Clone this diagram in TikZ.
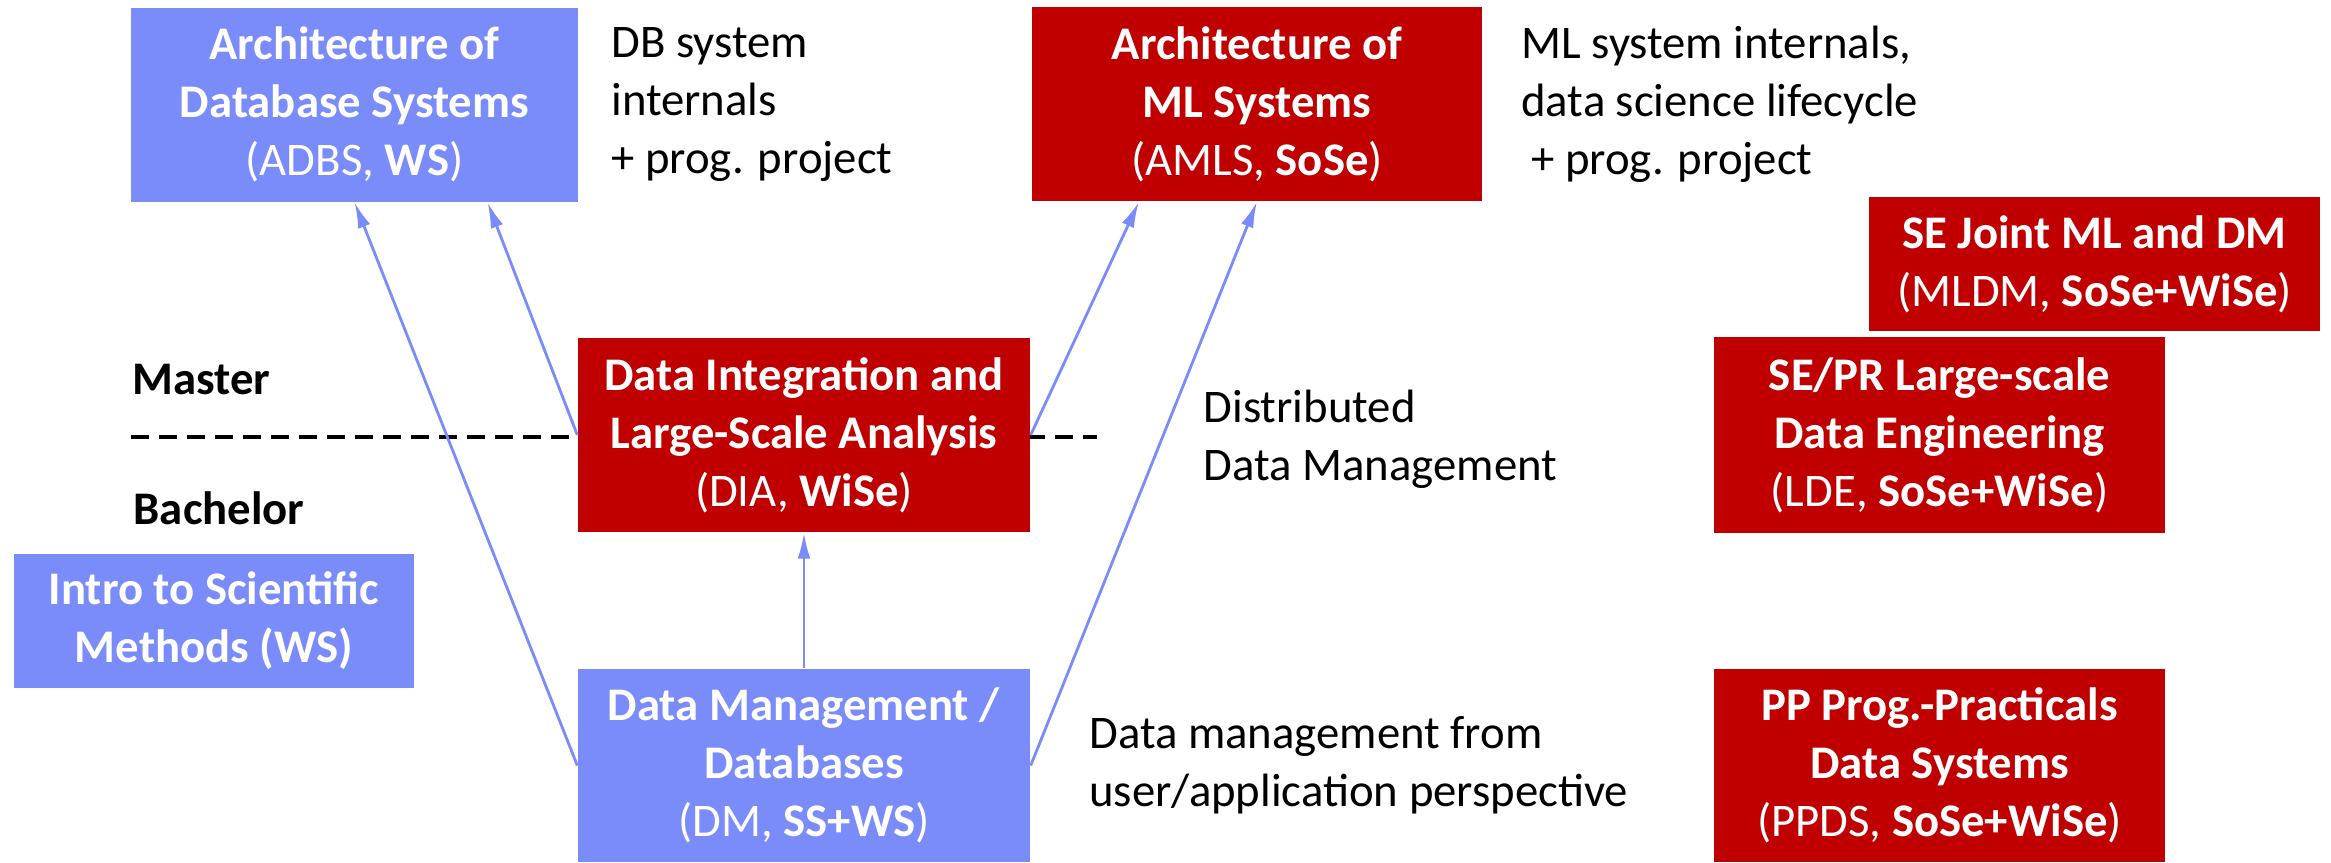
\documentclass[tikz,border=0pt]{standalone}
\usepackage{fontspec}
\setmainfont{Carlito}
\usetikzlibrary{arrows.meta, positioning}
\usepackage{xcolor}

\definecolor{dbblue}{RGB}{122,139,250}
\definecolor{mlred}{RGB}{192,0,0}

\begin{document}
\begin{tikzpicture}[
    course/.style = {text=white, align=center, inner sep=0pt, minimum width=4.5cm, minimum height=1.94cm, font=\fontsize{13.3}{16.5}\selectfont},
    dbcourse/.style = {course, fill=dbblue},
    mlcourse/.style = {course, fill=mlred},
    note/.style = {align=left, inner sep=0pt, anchor=west, font=\fontsize{13.3}{16.5}\selectfont},
    level/.style = {inner sep=0pt, anchor=west, font=\fontsize{13.3}{16.5}\selectfont\bfseries},
    arrow/.style = {dbblue, line width=0.8pt, -{Latex[length=2.6mm, width=1.3mm]}}
]

\useasboundingbox (0,0) rectangle (23.31,8.62);

% Master / Bachelor separator, behind the DIA box
\draw[dashed, line width=0.9pt, dash pattern=on 0.18cm off 0.1cm] (1.31,4.25) -- (10.97,4.25);
\node[level] (master) at (1.32,4.82) {Master};
\node[level] (bachelor) at (1.33,3.54) {Bachelor};

% Master courses
\node[dbcourse, minimum width=4.47cm] (adbs) at (3.545,7.575) {\textbf{Architecture of}\\ \textbf{Database Systems}\\ (ADBS, \textbf{WS})};
\node[mlcourse] (amls) at (12.57,7.58) {\textbf{Architecture of}\\ \textbf{ML Systems}\\ (AMLS, \textbf{SoSe})};
\node[mlcourse, minimum width=4.52cm] (dia) at (8.04,4.27) {\textbf{Data Integration and}\\ \textbf{Large-Scale Analysis}\\ (DIA, \textbf{WiSe})};
\node[mlcourse, minimum width=4.51cm, minimum height=1.34cm] (mldm) at (20.945,5.98) {\textbf{SE Joint ML and DM}\\ (MLDM, \textbf{SoSe+WiSe})};
\node[mlcourse, minimum width=4.51cm, minimum height=1.96cm] (lde) at (19.395,4.27) {\textbf{SE/PR Large-scale}\\ \textbf{Data Engineering}\\ (LDE, \textbf{SoSe+WiSe})};

% Bachelor courses
\node[dbcourse, minimum width=4.0cm, minimum height=1.34cm, font=\fontsize{13.3}{16.5}\selectfont\bfseries] (intro) at (2.14,2.41) {Intro to Scientific\\ Methods (WS)};
\node[dbcourse, minimum width=4.52cm, minimum height=1.93cm] (dm) at (8.04,0.965) {\textbf{Data Management /}\\ \textbf{Databases}\\ (DM, \textbf{SS+WS})};
\node[mlcourse, minimum width=4.51cm, minimum height=1.93cm] (ppds) at (19.395,0.965) {\textbf{PP Prog.-Practicals}\\ \textbf{Data Systems}\\ (PPDS, \textbf{SoSe+WiSe})};

% Descriptions next to the courses
\node[note, right=0.32cm of adbs] (adbsnote) {DB system\\ internals\\ + prog. project};
\node[note, right=0.38cm of amls] (amlsnote) {ML system internals,\\ data science lifecycle\\ \hspace{0.1cm}+ prog. project};
\node[note] (ddmnote) at (12.03,4.23) {Distributed\\ Data Management};
\node[note, right=0.58cm of dm] (dmnote) {Data management from\\ user/application perspective};

% Prerequisite arrows
\draw[arrow] (dm.west) -- (adbs.south);
\draw[arrow] (dia.west) -- ([xshift=1.33cm]adbs.south);
\draw[arrow] (dia.east) -- ([xshift=-1.18cm]amls.south);
\draw[arrow] (dm.east) -- (amls.south);
\draw[arrow] (dm.north) -- (dia.south);

\end{tikzpicture}
\end{document}
